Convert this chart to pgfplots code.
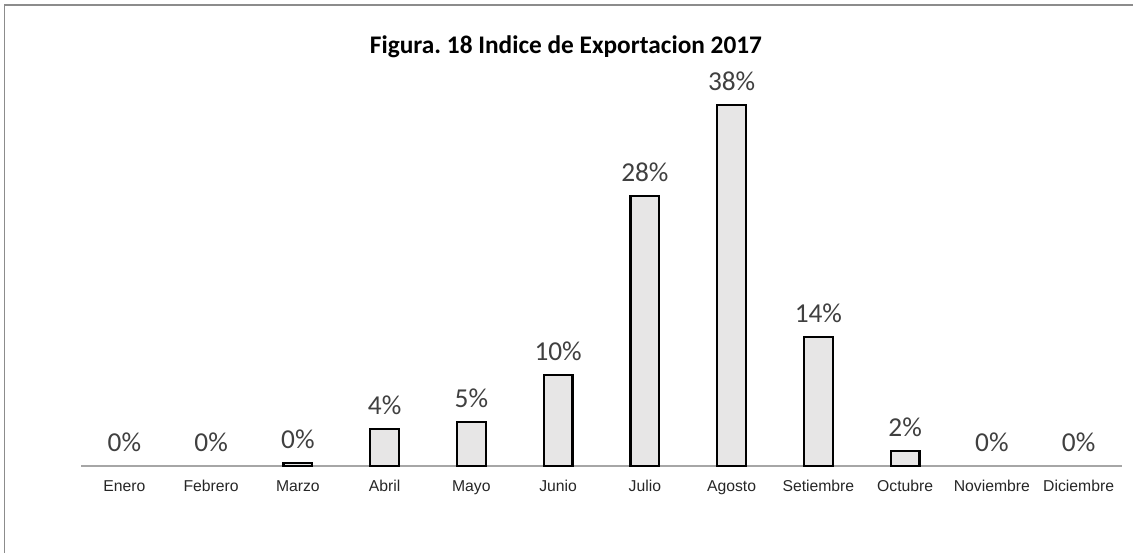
\documentclass[border=0pt]{standalone}
\usepackage{pgfplots}
\pgfplotsset{compat=1.18}
\usepackage{fontspec}
\setmainfont{Liberation Sans}
\newfontfamily\calibri{Carlito}
\frenchspacing

\definecolor{barfill}{HTML}{E7E6E6}
\definecolor{framegray}{HTML}{8C8C8C}
\definecolor{axisgray}{HTML}{A6A6A6}
\definecolor{labelgray}{HTML}{404040}

\begin{document}
\begin{tikzpicture}
% 1 px of the reference = 0.75pt
\useasboundingbox (0,0) rectangle (849.75pt,414.75pt);
\draw[framegray, line width=1.2pt] (3.5pt,0) -- (3.5pt,411pt) -- (849.75pt,411pt);

\node[font=\calibri\bfseries\fontsize{19}{22}\selectfont, text=black]
  at (424.5pt,380pt) {Figura. 18 Indice de Exportacion 2017};

\begin{axis}[
at={(60.75pt,65.25pt)}, anchor=south west,
scale only axis,
width=780.75pt, height=285pt,
xmin=-0.5, xmax=11.5,
ymin=0, ymax=40,
axis x line=bottom,
axis y line=none,
x axis line style={axisgray, line width=1pt, -},
xtick={0,...,11},
xticklabels={Enero,Febrero,Marzo,Abril,Mayo,Junio,Julio,Agosto,Setiembre,Octubre,Noviembre,Diciembre},
major tick length=0pt,
xticklabel style={font=\fontsize{11.8}{13}\selectfont, text=black!85, anchor=base, yshift=-19.5pt, inner sep=0pt},
bar width=0.33,
bar shift=0pt,
point meta=explicit symbolic,
nodes near coords={\pgfplotspointmeta},
nodes near coords style={font=\calibri\fontsize{20.5}{22}\selectfont, text=labelgray, anchor=center, yshift=18pt, inner sep=0pt},
clip=false,
]
\addplot[ybar, draw=black, fill=barfill, line width=1.6pt] coordinates {
(2,0.3) [0\%]
(3,3.9) [4\%]
(4,4.6) [5\%]
(5,9.6) [10\%]
(6,28.4) [28\%]
(7,38.0) [38\%]
(8,13.6) [14\%]
(9,1.6) [2\%]
};
\addplot[ybar, draw=none, fill=none] coordinates {
(0,0) [0\%]
(1,0) [0\%]
(10,0) [0\%]
(11,0) [0\%]
};
\end{axis}
\end{tikzpicture}
\end{document}
